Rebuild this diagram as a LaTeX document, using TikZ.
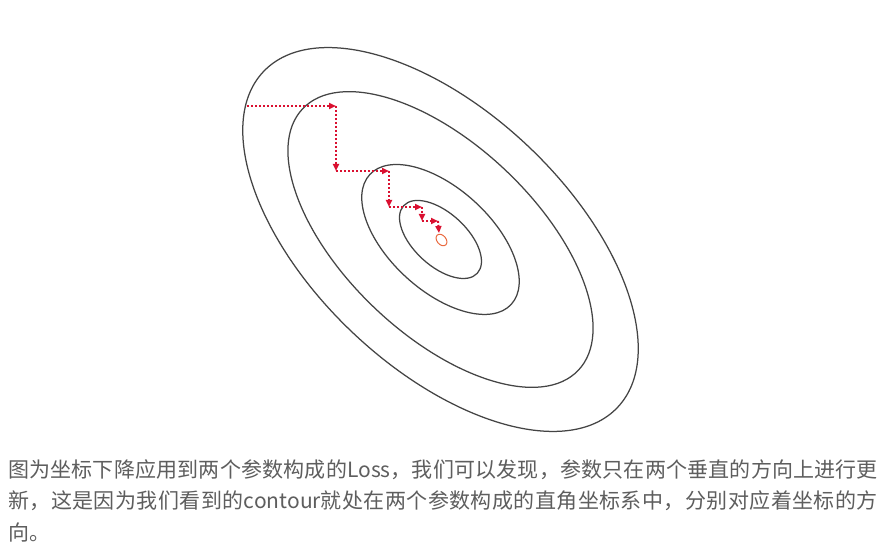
\documentclass[tikz,border=0pt]{standalone}
\usepackage{fontspec}
\setmainfont{Noto Sans CJK SC}
\usetikzlibrary{arrows.meta}
\makeatletter
\newcommand\spreadchars[1]{\spread@aux#1\relax}
\def\spread@aux#1{\ifx#1\relax\else#1\hskip 0pt plus 1pt\expandafter\spread@aux\fi}
\makeatother
\definecolor{contourgray}{HTML}{444444}
\definecolor{pathred}{HTML}{DA1030}
\definecolor{minorange}{HTML}{EA6A40}
\definecolor{captiongray}{HTML}{5E5E5E}
\tikzset{
  contour/.style={draw=contourgray, line width=1.25pt},
  stepline/.style={draw=pathred, line width=1.9pt, dash pattern=on 1.9pt off 2.1pt,
    -{Triangle[length=7pt,width=6pt,fill=pathred]}},
  caption/.style={anchor=west, inner sep=0pt, text=captiongray, font=\fontsize{21pt}{31pt}\selectfont}
}
\begin{document}
\begin{tikzpicture}[x=1pt,y=-1pt]
\useasboundingbox (0,0) rectangle (888,553);
\fill[white] (0,0) rectangle (888,553);
\coordinate (c) at (440.5,239.5);
% contour ellipses
\draw[contour, rotate around={-43.5:(c)}] (c) ellipse [x radius=244pt, y radius=128pt];
\draw[contour, rotate around={-43.5:(c)}] (c) ellipse [x radius=190pt, y radius=95pt];
\draw[contour, rotate around={-42.5:(c)}] (c) ellipse [x radius=96pt, y radius=51pt];
\draw[contour, rotate around={-42.5:(c)}] (c) ellipse [x radius=50pt, y radius=26.5pt];
% minimum
\coordinate (m) at (441.5,240);
\draw[minorange, line width=1pt, rotate around={-50:(m)}] (m) ellipse [x radius=6.5pt, y radius=4.5pt];
% descent path
\coordinate (p0) at (247,106);
\coordinate (p1) at (336,106);
\coordinate (p2) at (336,171);
\coordinate (p3) at (389,171);
\coordinate (p4) at (389,207);
\coordinate (p5) at (422,207);
\coordinate (p6) at (422,221);
\coordinate (p7) at (438,221);
\coordinate (p8) at (439,233);
\draw[stepline] (p0) -- (p1);
\draw[stepline] (p1) -- (p2);
\draw[stepline] (p2) -- (p3);
\draw[stepline] (p3) -- (p4);
\draw[stepline] (p4) -- (p5);
\draw[stepline] (p5) -- (p6);
\draw[stepline] (p6) -- (p7);
\draw[stepline] (p7) -- (p8);
% caption
\node[caption] (l1) at (8,470) {\makebox[870pt][s]{\spreadchars{图为坐标下降应用到两个参数构成的}Loss\spreadchars{，我们可以发现，参数只在两个垂直的方向上进行更}}};
\node[caption] (l2) at (8,501) {\makebox[870pt][s]{\spreadchars{新，这是因为我们看到的}contour\spreadchars{就处在两个参数构成的直角坐标系中，分别对应着坐标的方}}};
\node[caption] (l3) at (8,532) {向。};
\end{tikzpicture}
\end{document}
